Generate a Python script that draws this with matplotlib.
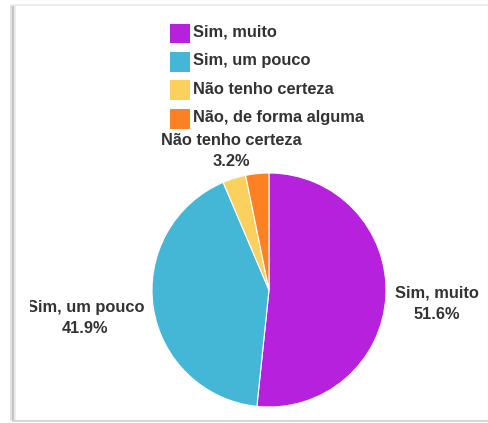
import numpy as np
import matplotlib
matplotlib.use("Agg")
import matplotlib.pyplot as plt
from matplotlib.patches import Rectangle

plt.rcParams["font.family"] = ["Liberation Sans", "DejaVu Sans"]

categories = ["Sim, muito", "Sim, um pouco", "Não tenho certeza", "Não, de forma alguma"]
shares = [51.6, 41.9, 3.2, 3.2]
colors = ["#b521dd", "#44b6d6", "#fcd05d", "#fb8123"]
show_label = [True, True, True, False]

W, H = 488, 423
fig = plt.figure(figsize=(W / 100, H / 100), dpi=100)
fig.patch.set_facecolor("white")

# card frame: soft left shadow plus faint top/bottom rules
frame = fig.add_axes([0, 0, 1, 1])
frame.set_xlim(0, W)
frame.set_ylim(H, 0)
frame.axis("off")
frame.add_patch(Rectangle((10, 5), 2, 416, color="#e2e2e2", lw=0))
frame.add_patch(Rectangle((12, 5), 2, 416, color="#c4c4c4", lw=0))
frame.add_patch(Rectangle((14, 5), 2, 416, color="#ececec", lw=0))
frame.add_patch(Rectangle((12, 4), W, 2, color="#ececec", lw=0))
frame.add_patch(Rectangle((12, 420), W, 2, color="#d6d6d6", lw=0))

# chart area, data units = pixels
x0, x1, y0, y1 = 30, 481, 24, 407
ax = fig.add_axes([x0 / W, 1 - y1 / H, (x1 - x0) / W, (y1 - y0) / H])
ax.set_xlim(x0, x1)
ax.set_ylim(H - y1, H - y0)
ax.set_facecolor("#f6f4f0")
for s in ax.spines.values():
    s.set_visible(False)
ax.set_xticks([])
ax.set_yticks([])

cx, cy, R = 269, H - 290, 117
wedges, _ = ax.pie(shares, colors=colors, startangle=90, counterclock=False,
                   center=(cx, cy), radius=R,
                   wedgeprops=dict(edgecolor="white", linewidth=0.8))
ax.set_xlim(x0, x1)
ax.set_ylim(H - y1, H - y0)
ax.set_aspect("equal")

txt = dict(fontsize=11.8, fontweight="bold", color="#333333", multialignment="center")
for w, name, val, show in zip(wedges, categories, shares, show_label):
    if not show:
        continue
    ang = np.deg2rad((w.theta1 + w.theta2) / 2)
    c, s = np.cos(ang), np.sin(ang)
    r = R * 1.08
    px, py = cx + r * c, cy + r * s
    if c > 0.4:
        ha, va = "left", "center"
        py -= 7
    elif c < -0.4:
        ha, va = "right", "center"
        py -= 9
    else:
        ha, va = "center", "bottom"
    ax.text(px, py, f"{name}\n{val:.1f}%", ha=ha, va=va, linespacing=1.5,
            clip_on=True, **txt)

# legend stacked above the pie
lx, ly, dy, box = 170, H - 33, 28.5, 20
for i, (name, col) in enumerate(zip(categories, colors)):
    yy = ly - i * dy
    ax.add_patch(Rectangle((lx, yy - box / 2), box, box, color=col, lw=0, clip_on=True))
    ax.text(lx + box + 3, yy + 1, name, ha="left", va="center", clip_on=True, **txt)

fig.savefig("out.png", dpi=100, facecolor="white")
